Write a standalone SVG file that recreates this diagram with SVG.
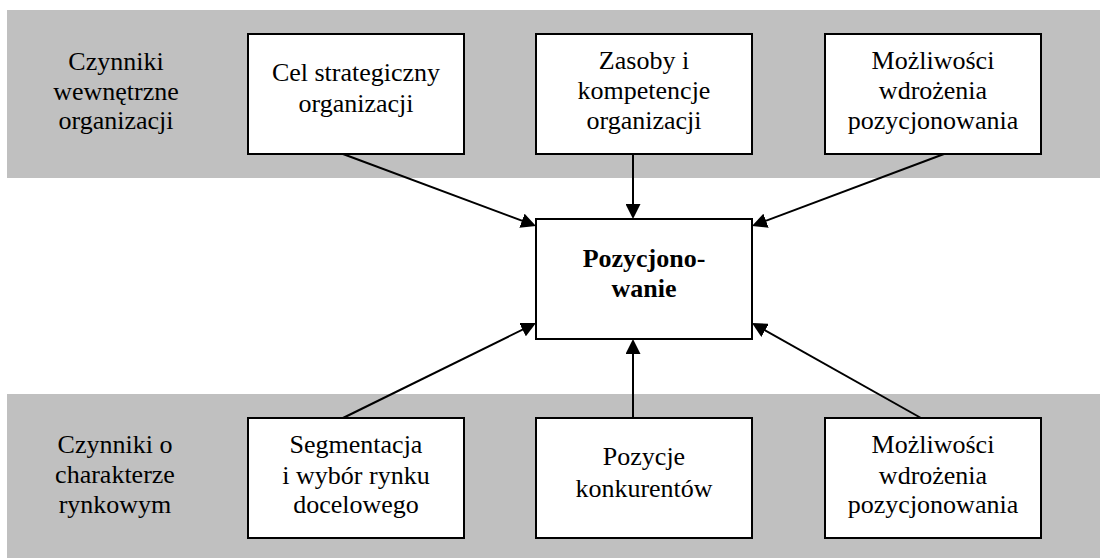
<svg xmlns="http://www.w3.org/2000/svg" width="1100" height="558" viewBox="0 0 1100 558">
<style>
.band{fill:#c0c0c0;stroke:none}
.box{fill:#ffffff;stroke:#000000;stroke-width:2}
.t{font-family:'Liberation Serif','Times New Roman',serif;font-size:26px;fill:#000000;text-anchor:middle}
.b{font-weight:bold}
.conn{stroke:#000000;stroke-width:2;fill:none;marker-end:url(#arr)}
</style>
<defs>
<marker id="arr" viewBox="0 0 15 15" markerWidth="15" markerHeight="15" refX="12" refY="7.5" orient="auto" markerUnits="userSpaceOnUse">
<path d="M0,0 L15,7.5 L0,15 z" fill="#000000"/>
</marker>
</defs>
<rect width="1100" height="558" fill="#ffffff"/>
<g id="band-top">
<rect class="band" x="7" y="10" width="1093" height="168"/>
<text class="t" x="116" y="70">Czynniki</text>
<text class="t" x="116" y="100">wewnętrzne</text>
<text class="t" x="116" y="129">organizacji</text>
</g>
<g id="band-bottom">
<rect class="band" x="7" y="394" width="1093" height="164"/>
<text class="t" x="115" y="453">Czynniki o</text>
<text class="t" x="115" y="483">charakterze</text>
<text class="t" x="115" y="513">rynkowym</text>
</g>
<g id="node-cel">
<rect class="box" x="248" y="34" width="216" height="120"/>
<text class="t" x="356" y="81">Cel strategiczny</text>
<text class="t" x="356" y="112">organizacji</text>
</g>
<g id="node-zasoby">
<rect class="box" x="536" y="34" width="216" height="120"/>
<text class="t" x="644" y="69">Zasoby i</text>
<text class="t" x="644" y="99">kompetencje</text>
<text class="t" x="644" y="129">organizacji</text>
</g>
<g id="node-mozliwosci-top">
<rect class="box" x="825" y="34" width="216" height="120"/>
<text class="t" x="933" y="69">Możliwości</text>
<text class="t" x="933" y="99">wdrożenia</text>
<text class="t" x="933" y="129">pozycjonowania</text>
</g>
<g id="node-pozycjonowanie">
<rect class="box" x="536" y="219" width="216" height="120"/>
<text class="t b" x="644" y="267">Pozycjono-</text>
<text class="t b" x="644" y="297">wanie</text>
</g>
<g id="node-segmentacja">
<rect class="box" x="248" y="418" width="216" height="120"/>
<text class="t" x="356" y="453">Segmentacja</text>
<text class="t" x="356" y="484">i wybór rynku</text>
<text class="t" x="356" y="513">docelowego</text>
</g>
<g id="node-pozycje">
<rect class="box" x="536" y="418" width="216" height="120"/>
<text class="t" x="644" y="465">Pozycje</text>
<text class="t" x="644" y="497">konkurentów</text>
</g>
<g id="node-mozliwosci-bottom">
<rect class="box" x="825" y="418" width="216" height="120"/>
<text class="t" x="933" y="453">Możliwości</text>
<text class="t" x="933" y="484">wdrożenia</text>
<text class="t" x="933" y="513">pozycjonowania</text>
</g>
<g id="connectors">
<line class="conn" x1="343" y1="154" x2="533.2" y2="224.9"/>
<line class="conn" x1="633" y1="154" x2="633" y2="216"/>
<line class="conn" x1="944" y1="154" x2="754.8" y2="224.9"/>
<line class="conn" x1="343" y1="418" x2="533.3" y2="324.3"/>
<line class="conn" x1="633" y1="418" x2="633" y2="342"/>
<line class="conn" x1="921" y1="418" x2="754.6" y2="324.5"/>
</g>
</svg>
